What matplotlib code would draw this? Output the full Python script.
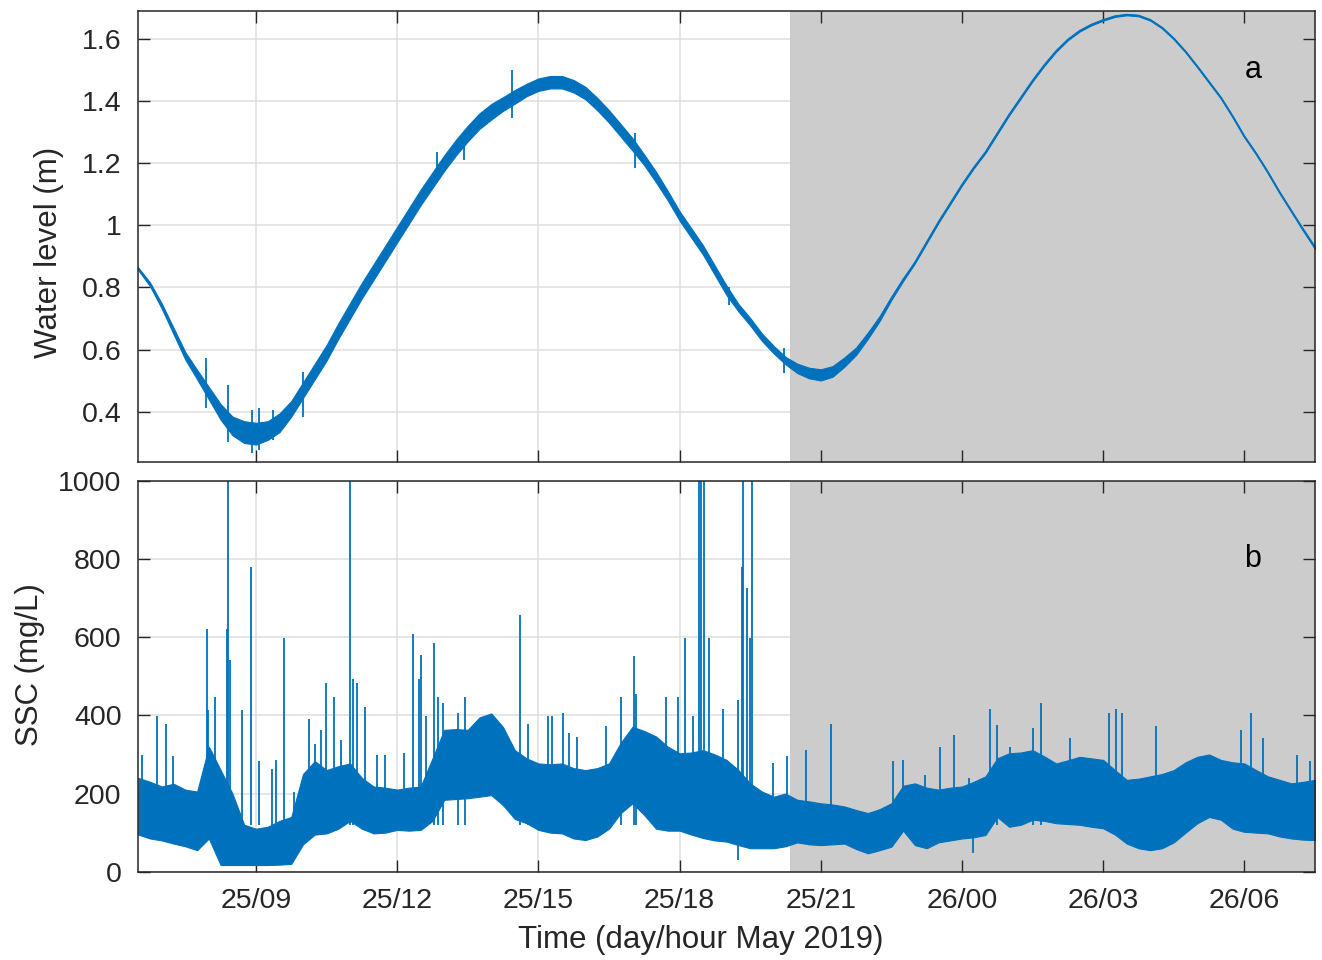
import numpy as np
import matplotlib
matplotlib.use('Agg')
import matplotlib.pyplot as plt

plt.rcParams['font.family'] = ['Liberation Sans', 'DejaVu Sans']

BLUE = '#0072BD'
SHADE = '#CCCCCC'
GRID = '#DFDFDF'
DARK = '#262626'

# time axis: hours since 25 May 00:00, quarter-hour samples
hours = [6.5, 6.75,
         7.0, 7.25, 7.5, 7.75, 8.0, 8.25, 8.5, 8.75,
         9.0, 9.25, 9.5, 9.75, 10.0, 10.25, 10.5, 10.75,
         11.0, 11.25, 11.5, 11.75, 12.0, 12.25, 12.5, 12.75,
         13.0, 13.25, 13.5, 13.75, 14.0, 14.25, 14.5, 14.75,
         15.0, 15.25, 15.5, 15.75, 16.0, 16.25, 16.5, 16.75,
         17.0, 17.25, 17.5, 17.75, 18.0, 18.25, 18.5, 18.75,
         19.0, 19.25, 19.5, 19.75, 20.0, 20.25, 20.5, 20.75,
         21.0, 21.25, 21.5, 21.75, 22.0, 22.25, 22.5, 22.75,
         23.0, 23.25, 23.5, 23.75, 24.0, 24.25, 24.5, 24.75,
         25.0, 25.25, 25.5, 25.75, 26.0, 26.25, 26.5, 26.75,
         27.0, 27.25, 27.5, 27.75, 28.0, 28.25, 28.5, 28.75,
         29.0, 29.25, 29.5, 29.75, 30.0, 30.25, 30.5, 30.75,
         31.0, 31.25, 31.5]

# panel a: water level (m), centre line and half-width of the noise band
wl_mid = [0.86, 0.81,
          0.74, 0.66, 0.58, 0.52, 0.46, 0.40, 0.355, 0.335,
          0.33, 0.34, 0.365, 0.41, 0.47, 0.53, 0.59, 0.66,
          0.725, 0.79, 0.85, 0.91, 0.97, 1.03, 1.09, 1.145,
          1.20, 1.25, 1.295, 1.335, 1.365, 1.39, 1.413, 1.435,
          1.452, 1.46, 1.46, 1.447, 1.425, 1.39, 1.35, 1.305,
          1.26, 1.21, 1.155, 1.095, 1.03, 0.975, 0.92, 0.855,
          0.79, 0.735, 0.69, 0.64, 0.60, 0.565, 0.54, 0.525,
          0.519, 0.53, 0.56, 0.595, 0.645, 0.70, 0.765, 0.825,
          0.88, 0.945, 1.01, 1.07, 1.13, 1.185, 1.235, 1.295,
          1.355, 1.41, 1.465, 1.515, 1.56, 1.597, 1.625, 1.645,
          1.66, 1.672, 1.677, 1.674, 1.66, 1.635, 1.60, 1.558,
          1.51, 1.46, 1.41, 1.35, 1.285, 1.23, 1.17, 1.105,
          1.045, 0.985, 0.928]
wl_noise = [0.004, 0.006,
            0.008, 0.01, 0.012, 0.015, 0.02, 0.025, 0.03, 0.035,
            0.035, 0.03, 0.03, 0.025, 0.025, 0.025, 0.025, 0.025,
            0.025, 0.025, 0.025, 0.025, 0.025, 0.025, 0.025, 0.025,
            0.025, 0.025, 0.025, 0.025, 0.025, 0.022, 0.022, 0.02,
            0.02, 0.02, 0.02, 0.02, 0.02, 0.02, 0.02, 0.02,
            0.02, 0.017, 0.017, 0.015, 0.015, 0.015, 0.015, 0.015,
            0.015, 0.012, 0.012, 0.012, 0.012, 0.012, 0.015, 0.017,
            0.018, 0.017, 0.015, 0.012, 0.01, 0.008, 0.005, 0.004,
            0.002, 0.002, 0.002, 0.002, 0.002, 0.002, 0.002, 0.002,
            0.002, 0.002, 0.002, 0.002, 0.002, 0.002, 0.002, 0.002,
            0.002, 0.002, 0.002, 0.002, 0.002, 0.002, 0.002, 0.002,
            0.002, 0.002, 0.002, 0.002, 0.002, 0.002, 0.002, 0.002,
            0.002, 0.003, 0.004]
# isolated water-level spikes: hour, low, high
wl_spike_h = [7.94, 8.41, 8.92, 9.07, 9.37, 10.01, 12.84, 13.41, 14.45, 17.06, 19.04, 20.21]
wl_spike_lo = [0.413, 0.303, 0.268, 0.278, 0.31, 0.384, 1.14, 1.21, 1.346, 1.185, 0.744, 0.525]
wl_spike_hi = [0.574, 0.487, 0.406, 0.413, 0.406, 0.529, 1.236, 1.298, 1.50, 1.298, 0.80, 0.606]

# panel b: SSC (mg/L), lower and upper edge of the dense band
ssc_low = [95, 85,
           80, 72, 65, 55, 85, 17, 17, 17,
           17, 17, 18, 20, 70, 95, 98, 110,
           130, 110, 98, 100, 107, 105, 107, 130,
           184, 186, 188, 192, 196, 170, 135, 124,
           107, 100, 98, 85, 81, 90, 110, 150,
           175, 145, 110, 105, 105, 95, 86, 80,
           77, 68, 60, 60, 60, 65, 75, 70,
           68, 70, 72, 58, 47, 55, 64, 105,
           68, 60, 75, 80, 85, 88, 94, 140,
           115, 120, 133, 130, 124, 122, 120, 115,
           111, 95, 72, 60, 55, 60, 75, 100,
           124, 140, 133, 110, 102, 100, 98, 90,
           85, 82, 81]
ssc_high = [240, 230,
            218, 225, 210, 205, 320, 260, 200, 120,
            110, 115, 130, 140, 250, 283, 260, 270,
            277, 240, 218, 215, 210, 215, 218, 290,
            363, 365, 363, 395, 405, 370, 311, 290,
            277, 275, 277, 265, 260, 265, 277, 330,
            371, 360, 346, 320, 303, 305, 311, 300,
            286, 260, 226, 205, 192, 200, 184, 180,
            175, 172, 167, 158, 150, 160, 175, 220,
            226, 215, 210, 215, 218, 230, 244, 290,
            303, 305, 311, 295, 277, 285, 294, 290,
            286, 260, 235, 238, 244, 250, 260, 280,
            294, 300, 286, 280, 277, 260, 244, 235,
            226, 230, 235]
# isolated SSC spikes: hour, peak value
ssc_spike_h = [6.57, 6.89, 7.08, 7.24, 7.95, 7.99, 8.13, 8.38, 8.40, 8.45, 8.70,
               8.89, 9.07, 9.35, 9.42, 9.59, 9.80, 10.13, 10.26, 10.39, 10.48,
               10.66, 10.81, 10.99, 11.06, 11.14, 11.31, 11.57, 11.75, 12.14,
               12.33, 12.46, 12.50, 12.61, 12.78, 12.86, 12.97, 13.30, 13.44,
               14.61, 14.79, 15.20, 15.29, 15.52, 15.66, 15.83, 16.44, 16.76,
               17.04, 17.08, 17.71, 17.97, 18.11, 18.29, 18.41, 18.45, 18.51,
               18.63, 18.92, 19.24, 19.33, 19.35, 19.43, 19.50, 19.54, 19.99,
               20.28, 20.69, 21.21, 22.54, 22.75, 23.22, 23.54, 23.82, 24.14,
               24.59, 24.75, 25.03, 25.50, 25.67, 26.30, 27.13, 27.28, 27.39,
               28.13, 29.93, 30.13, 30.39, 31.12, 31.39]
ssc_spike_v = [299, 398, 377, 295, 620, 414, 448, 620, 1000, 542, 414, 781, 282,
               262, 287, 597, 205, 392, 328, 362, 484, 448, 337, 1000, 493, 484,
               422, 299, 299, 305, 608, 493, 555, 398, 586, 448, 431, 407, 448,
               657, 377, 398, 398, 407, 356, 344, 372, 448, 553, 456, 448, 448,
               597, 398, 1000, 1000, 1000, 597, 416, 440, 781, 1000, 725, 597,
               1000, 277, 296, 312, 377, 283, 287, 247, 320, 350, 239, 416, 376,
               320, 369, 431, 343, 407, 416, 407, 372, 363, 407, 342, 299, 282]
ssc_dip_h = [19.24, 24.24]
ssc_dip_v = [31, 47]

xticks = [9, 12, 15, 18, 21, 24, 27, 30]
xticklabels = ['25/09', '25/12', '25/15', '25/18', '25/21', '26/00', '26/03', '26/06']
wl_ticks = [0.4, 0.6, 0.8, 1.0, 1.2, 1.4, 1.6]
wl_ticklabels = ['0.4', '0.6', '0.8', '1', '1.2', '1.4', '1.6']
ssc_ticks = [0, 200, 400, 600, 800, 1000]
shade_start = 20.35

fig = plt.figure(figsize=(13.22, 9.6), dpi=100)
ax1 = fig.add_axes([0.1046, 0.5191, 0.8901, 0.4698])
ax2 = fig.add_axes([0.1046, 0.0920, 0.8901, 0.4070])


def style(ax, yticks):
    ax.set_xlim(6.5, 31.5)
    ax.axvspan(shade_start, 31.5, color=SHADE, lw=0, zorder=1)
    for t in xticks:
        ax.axvline(t, color=GRID, lw=1.1, zorder=0.5)
    for t in yticks:
        ax.axhline(t, color=GRID, lw=1.1, zorder=0.5)
    ax.set_xticks(xticks)
    ax.set_yticks(yticks)
    ax.tick_params(direction='in', length=8.5, width=1.0, top=True, right=True,
                   labelsize=20.5, color=DARK, labelcolor=DARK, pad=12)
    for s in ax.spines.values():
        s.set_color(DARK)
        s.set_linewidth(1.1)
        s.set_zorder(3)


# panel a
style(ax1, wl_ticks)
ax1.set_ylim(0.24, 1.69)
ax1.set_yticklabels(wl_ticklabels)
ax1.set_xticklabels([])
lo = np.array(wl_mid) - np.array(wl_noise)
hi = np.array(wl_mid) + np.array(wl_noise)
ax1.fill_between(hours, lo, hi, color=BLUE, lw=0.8, zorder=2)
ax1.plot(hours, wl_mid, color=BLUE, lw=1.3, zorder=2)
ax1.vlines(wl_spike_h, wl_spike_lo, wl_spike_hi, color=BLUE, lw=1.3, zorder=2)

# panel b
style(ax2, ssc_ticks)
ax2.set_ylim(0, 1000)
ax2.set_xticklabels(xticklabels)
ax2.fill_between(hours, ssc_low, ssc_high, color=BLUE, lw=0.8, zorder=2)
ax2.vlines(ssc_spike_h, 120, ssc_spike_v, color=BLUE, lw=1.3, zorder=2)
ax2.vlines(ssc_dip_h, ssc_dip_v, 120, color=BLUE, lw=1.3, zorder=2)

fig.text(701 / 1322, 1 - 940 / 960, 'Time (day/hour May 2019)', ha='center',
         va='center', fontsize=22.5, color=DARK)
fig.text(49 / 1322, 1 - 252 / 960, 'Water level (m)', rotation=90, ha='center',
         va='center', fontsize=22.5, color=DARK)
fig.text(30 / 1322, 1 - 665 / 960, 'SSC (mg/L)', rotation=90, ha='center',
         va='center', fontsize=22.5, color=DARK)
fig.text(1253 / 1322, 1 - 70 / 960, 'a', ha='center', va='center', fontsize=22)
fig.text(1253 / 1322, 1 - 559 / 960, 'b', ha='center', va='center', fontsize=22)

fig.savefig('out.png', dpi=100)
